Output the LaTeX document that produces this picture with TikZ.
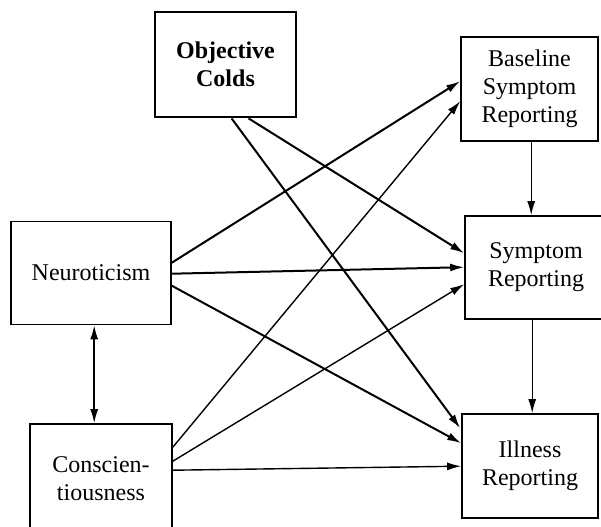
\documentclass[tikz,border=0pt]{standalone}
\usepackage{fontspec}
\setmainfont{Liberation Serif}
\usetikzlibrary{arrows.meta,calc}
\begin{document}
\begin{tikzpicture}[x=0.5pt,y=-0.5pt,
  box/.style={draw, line width=0.8pt, inner sep=0pt, align=center,
    font=\fontsize{12pt}{14pt}\selectfont},
  thickbox/.style={box, line width=1.4pt, font=\fontsize{12pt}{14pt}\selectfont\bfseries},
  lbl/.style={inner sep=0pt, align=center, font=\fontsize{12pt}{14pt}\selectfont},
  arr/.style={line width=1pt, -{Latex[length=7pt,width=4pt]}},
  thinarr/.style={arr, line width=0.7pt},
  dblarr/.style={line width=0.8pt, {Latex[length=7pt,width=4pt]}-{Latex[length=7pt,width=4pt]}}]
\useasboundingbox (0,0) rectangle (601,526);
\clip (0,0) rectangle (601,526);
% boxes
\node[thickbox, minimum width=70.5pt, minimum height=52.5pt] (OC) at (225.5,64.5) {Objective\\Colds};
\node[box, minimum width=68.5pt, minimum height=52pt] (BSR) at (529.5,89) {Baseline\\Symptom\\Reporting};
\node[box, minimum width=71pt, minimum height=51.5pt] (SR) at (536,267.5) {Symptom\\Reporting};
\node[box, minimum width=68pt, minimum height=52pt] (IR) at (530,466) {Illness\\Reporting};
\node[box, minimum width=80pt, minimum height=51.5pt] (N) at (91,273) {Neuroticism};
\node[box, minimum width=71pt, minimum height=60.5pt] (C) at (101,484.5) {};
\node[lbl] (Clbl) at (101,479) {Conscien-\\tiousness};
% connectors from Objective Colds
\draw[arr] ($(OC.south west)+(78,0)$) -- ($(IR.north west)+(-1,15)$);
\draw[arr] ($(OC.south west)+(95,0)$) -- ($(SR.north west)+(0,38)$);
% from Neuroticism
\draw[arr] ($(N.north east)+(0,42)$) -- ($(BSR.north west)+(0,45)$);
\draw[arr] ($(N.north east)+(0,53)$) -- ($(SR.north west)+(0,52)$);
\draw[arr] ($(N.north east)+(0,65)$) -- ($(IR.north west)+(0,30)$);
% from Conscientiousness
\draw[thinarr] ($(C.north east)+(0,24)$) -- ($(BSR.north west)+(0,65)$);
\draw[thinarr] ($(C.north east)+(0,38)$) -- ($(SR.north west)+(0,69)$);
\draw[thinarr] ($(C.north east)+(0,47)$) -- ($(IR.north west)+(0,53)$);
% verticals
\coordinate (b1) at ($(BSR.south west)+(71,0)$);
\draw[thinarr] (b1) -- (b1 |- SR.north);
\coordinate (s1) at ($(SR.south west)+(68,0)$);
\draw[thinarr] (s1) -- (s1 |- IR.north);
\coordinate (n1) at ($(N.south west)+(84,0)$);
\draw[dblarr] (n1) -- (n1 |- C.north);
\end{tikzpicture}
\end{document}
